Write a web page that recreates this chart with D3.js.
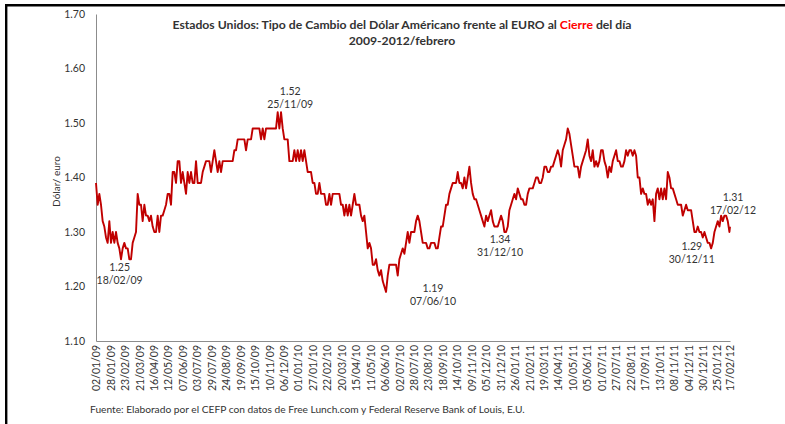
<!DOCTYPE html>
<html lang="es">
<head>
<meta charset="utf-8">
<title>Tipo de cambio dólar/euro</title>
<script src="https://cdn.jsdelivr.net/npm/d3@7"></script>
<style>
	html, body { margin: 0; padding: 0; background: #fff; }
	svg { display: block; font-family: Lato, 'Open Sans', sans-serif; }
</style>
</head>
<body>
<div id="chart"></div>
<script>
'use strict';

// cierre del día, leído cada 3 días a partir del 02/01/09
const fechaInicial = '02/01/09';
const pasoDias = 3;
const cierre = [
	1.39, 1.35, 1.37, 1.35, 1.32, 1.31, 1.29, 1.28, 1.32, 1.28,
	1.30, 1.28, 1.30, 1.28, 1.27, 1.25, 1.27, 1.28, 1.27, 1.27,
	1.25, 1.25, 1.28, 1.29, 1.30, 1.37, 1.35, 1.35, 1.32, 1.35,
	1.33, 1.33, 1.32, 1.33, 1.31, 1.30, 1.30, 1.33, 1.30, 1.33,
	1.33, 1.34, 1.35, 1.37, 1.37, 1.35, 1.41, 1.41, 1.39, 1.43,
	1.43, 1.39, 1.41, 1.39, 1.37, 1.41, 1.39, 1.41, 1.39, 1.39,
	1.43, 1.39, 1.39, 1.39, 1.41, 1.42, 1.43, 1.43, 1.43, 1.41,
	1.43, 1.45, 1.43, 1.41, 1.43, 1.41, 1.43, 1.43, 1.43, 1.43,
	1.43, 1.43, 1.43, 1.45, 1.45, 1.47, 1.47, 1.47, 1.47, 1.47,
	1.45, 1.47, 1.47, 1.47, 1.49, 1.49, 1.49, 1.49, 1.49, 1.47,
	1.49, 1.47, 1.49, 1.49, 1.49, 1.49, 1.49, 1.49, 1.49, 1.52,
	1.49, 1.52, 1.49, 1.47, 1.47, 1.47, 1.43, 1.43, 1.43, 1.45,
	1.43, 1.45, 1.43, 1.45, 1.43, 1.45, 1.43, 1.41, 1.41, 1.41,
	1.39, 1.39, 1.37, 1.37, 1.39, 1.37, 1.37, 1.37, 1.35, 1.35,
	1.37, 1.35, 1.37, 1.37, 1.37, 1.37, 1.37, 1.35, 1.35, 1.33,
	1.35, 1.33, 1.35, 1.33, 1.35, 1.37, 1.35, 1.35, 1.35, 1.33,
	1.32, 1.33, 1.30, 1.27, 1.28, 1.27, 1.24, 1.24, 1.25, 1.23,
	1.22, 1.23, 1.21, 1.20, 1.19, 1.22, 1.24, 1.24, 1.24, 1.24,
	1.24, 1.22, 1.25, 1.26, 1.27, 1.26, 1.28, 1.30, 1.28, 1.30,
	1.30, 1.30, 1.32, 1.33, 1.32, 1.30, 1.28, 1.28, 1.28, 1.27,
	1.27, 1.28, 1.28, 1.28, 1.27, 1.27, 1.29, 1.31, 1.31, 1.33,
	1.35, 1.35, 1.37, 1.38, 1.39, 1.39, 1.39, 1.41, 1.39, 1.39,
	1.38, 1.40, 1.38, 1.40, 1.42, 1.39, 1.37, 1.36, 1.36, 1.35,
	1.34, 1.33, 1.32, 1.31, 1.33, 1.32, 1.33, 1.34, 1.32, 1.31,
	1.31, 1.31, 1.32, 1.33, 1.32, 1.30, 1.30, 1.31, 1.34, 1.35,
	1.36, 1.37, 1.36, 1.38, 1.37, 1.36, 1.36, 1.35, 1.35, 1.37,
	1.38, 1.38, 1.38, 1.39, 1.40, 1.40, 1.39, 1.39, 1.40, 1.42,
	1.42, 1.41, 1.41, 1.42, 1.42, 1.43, 1.44, 1.45, 1.44, 1.42,
	1.45, 1.46, 1.47, 1.49, 1.48, 1.46, 1.44, 1.42, 1.42, 1.42,
	1.40, 1.42, 1.43, 1.44, 1.45, 1.47, 1.44, 1.43, 1.45, 1.42,
	1.43, 1.42, 1.43, 1.45, 1.45, 1.43, 1.42, 1.40, 1.42, 1.41,
	1.43, 1.44, 1.45, 1.43, 1.43, 1.42, 1.42, 1.43, 1.45, 1.44,
	1.45, 1.45, 1.44, 1.45, 1.44, 1.40, 1.40, 1.37, 1.38, 1.37,
	1.37, 1.35, 1.36, 1.35, 1.36, 1.32, 1.37, 1.38, 1.36, 1.38,
	1.36, 1.38, 1.36, 1.41, 1.40, 1.38, 1.38, 1.37, 1.36, 1.35,
	1.35, 1.35, 1.33, 1.34, 1.35, 1.34, 1.34, 1.34, 1.32, 1.30,
	1.30, 1.31, 1.30, 1.30, 1.29, 1.30, 1.29, 1.28, 1.28, 1.27,
	1.28, 1.30, 1.31, 1.32, 1.31, 1.33, 1.32, 1.33, 1.33, 1.32,
	1.30
];
const fechaFinal = '17/02/12';
const cierreFinal = 1.31;

const etiquetasFecha = [
	'02/01/09', '28/01/09', '23/02/09', '21/03/09', '16/04/09', '12/05/09', '07/06/09', '03/07/09',
	'29/07/09', '24/08/09', '19/09/09', '15/10/09', '10/11/09', '06/12/09', '01/01/10', '27/01/10',
	'22/02/10', '20/03/10', '15/04/10', '11/05/10', '06/06/10', '02/07/10', '28/07/10', '23/08/10',
	'18/09/10', '14/10/10', '09/11/10', '05/12/10', '31/12/10', '26/01/11', '21/02/11', '19/03/11',
	'14/04/11', '10/05/11', '05/06/11', '01/07/11', '27/07/11', '22/08/11', '17/09/11', '13/10/11',
	'08/11/11', '04/12/11', '30/12/11', '25/01/12', '17/02/12'
];
const valoresEje = [1.10, 1.20, 1.30, 1.40, 1.50, 1.60, 1.70];

const anotaciones = [
	{fecha: '18/02/09', valor: 1.25},
	{fecha: '25/11/09', valor: 1.52},
	{fecha: '07/06/10', valor: 1.19},
	{fecha: '31/12/10', valor: 1.34},
	{fecha: '30/12/11', valor: 1.29},
	{fecha: '17/02/12', valor: 1.31}
];
// desplazamiento (px) de cada anotación respecto a su punto
const posAnotaciones = [[-2.5, 11.5], [12.5, -16.7], [47.5, -0.4], [-0.5, 32.5], [-11, 13], [3, -26]];

const ancho = 785;
const alto = 424;
const margen = {top: 14, right: 55, bottom: 83, left: 96};

const parseFecha = d3.timeParse('%d/%m/%y');
const inicio = parseFecha(fechaInicial);

const datos = cierre.map((v, i) => ({fecha: d3.timeDay.offset(inicio, i * pasoDias), valor: v}));
datos.push({fecha: parseFecha(fechaFinal), valor: cierreFinal});

const svg = d3.select('#chart').append('svg')
	.attr('width', ancho)
	.attr('height', alto);

const x = d3.scaleTime()
	.domain([inicio, parseFecha(fechaFinal)])
	.range([margen.left, ancho - margen.right]);

const y = d3.scaleLinear()
	.domain([1.10, 1.70])
	.range([alto - margen.bottom, margen.top]);

// marco
svg.append('path')
	.attr('d', `M6.2,${alto} V5.2 H${ancho}`)
	.attr('fill', 'none')
	.attr('stroke', '#000')
	.attr('stroke-width', 2.4);

// eje y
const ejeY = svg.append('g')
	.attr('transform', `translate(${margen.left},0)`)
	.call(d3.axisLeft(y)
		.tickValues(valoresEje)
		.tickSize(0)
		.tickSizeOuter(0)
		.tickPadding(11)
		.tickFormat(d3.format('.2f')));
ejeY.select('.domain').attr('stroke', '#8c8c8c');
ejeY.selectAll('text')
	.attr('fill', '#333')
	.style('font-size', '10.5px')
	.style('font-family', 'Lato, sans-serif');

// eje x
const ejeX = svg.append('g')
	.attr('transform', `translate(0,${alto - margen.bottom})`)
	.call(d3.axisBottom(x)
		.tickValues(etiquetasFecha.map(parseFecha))
		.tickSize(0)
		.tickSizeOuter(0)
		.tickFormat(d3.timeFormat('%d/%m/%y')));
ejeX.select('.domain').attr('stroke', '#8c8c8c');
ejeX.selectAll('text')
	.attr('transform', 'rotate(-90)')
	.attr('text-anchor', 'end')
	.attr('x', -4)
	.attr('y', 0)
	.attr('dy', '0.35em')
	.attr('fill', '#333')
	.style('font-size', '10.5px')
	.style('font-family', 'Lato, sans-serif');

// título del eje y
svg.append('text')
	.attr('transform', `translate(60,${(y(1.10) + y(1.70)) / 2 + 4}) rotate(-90)`)
	.attr('text-anchor', 'middle')
	.attr('fill', '#333')
	.style('font-size', '10px')
	.text('Dólar/ euro');

// serie
const linea = d3.line()
	.x(d => x(d.fecha))
	.y(d => y(d.valor));

svg.append('path')
	.datum(datos)
	.attr('d', linea)
	.attr('fill', 'none')
	.attr('stroke', '#c00000')
	.attr('stroke-width', 1.9)
	.attr('stroke-linejoin', 'round');

// anotaciones de valor y fecha
const etiqueta = svg.append('g')
	.selectAll('text')
	.data(anotaciones)
	.enter()
	.append('text')
	.attr('text-anchor', 'middle')
	.attr('fill', '#333')
	.style('font-size', '10.5px');

etiqueta.append('tspan')
	.attr('x', (d, i) => x(parseFecha(d.fecha)) + posAnotaciones[i][0])
	.attr('y', (d, i) => y(d.valor) + posAnotaciones[i][1])
	.text(d => d3.format('.2f')(d.valor));

etiqueta.append('tspan')
	.attr('x', (d, i) => x(parseFecha(d.fecha)) + posAnotaciones[i][0])
	.attr('y', (d, i) => y(d.valor) + posAnotaciones[i][1] + 13)
	.text(d => d.fecha);

// título
const titulo = svg.append('text')
	.attr('x', 402)
	.attr('y', 29)
	.attr('text-anchor', 'middle')
	.attr('fill', '#333')
	.style('font-size', '12.2px')
	.style('font-weight', 'bold');
titulo.append('tspan').text('Estados Unidos: Tipo de Cambio del Dólar Américano frente al EURO al ');
titulo.append('tspan').attr('fill', '#ff0000').text('Cierre');
titulo.append('tspan').text(' del día');

svg.append('text')
	.attr('x', 402)
	.attr('y', 45)
	.attr('text-anchor', 'middle')
	.attr('fill', '#333')
	.style('font-size', '12.2px')
	.style('font-weight', 'bold')
	.text('2009-2012/febrero');

// fuente
svg.append('text')
	.attr('x', 90)
	.attr('y', 413)
	.attr('fill', '#333')
	.style('font-size', '10.2px')
	.text('Fuente: Elaborado por el CEFP con datos de Free Lunch.com y Federal Reserve Bank of Louis, E.U.');
</script>
</body>
</html>
